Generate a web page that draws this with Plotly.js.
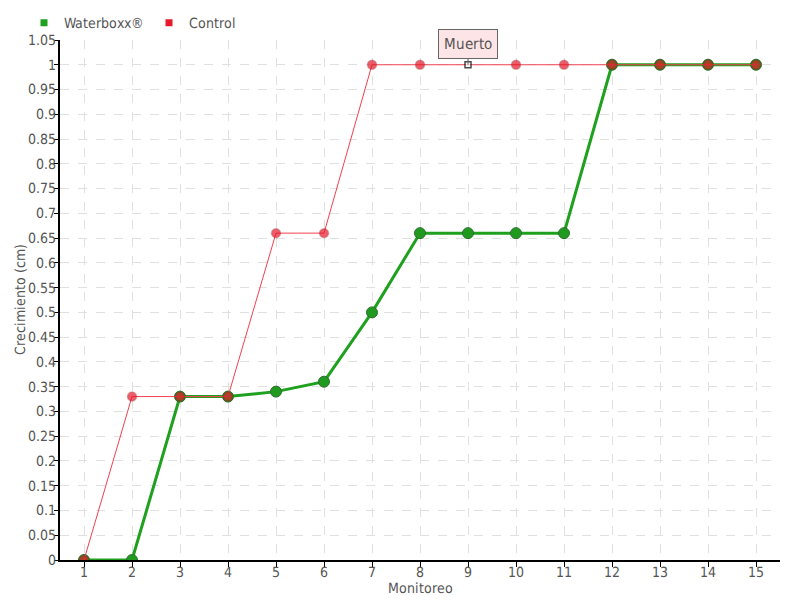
<!DOCTYPE html>
<html><head><meta charset="utf-8">
<script src="https://cdn.plot.ly/plotly-3.0.1.min.js"></script>
<style>
@font-face{font-family:'NarrowX';src:local('Liberation Sans Narrow'),local('LiberationSansNarrow-Regular'),local('DejaVu Sans Condensed'),local('DejaVuSansCondensed');}
body{margin:0;background:#fff}#c{width:800px;height:600px}
</style>
</head><body><div id="c"></div>
<script>
const monitoreo = [1,2,3,4,5,6,7,8,9,10,11,12,13,14,15];
const waterboxx = [0,0,0.33,0.33,0.34,0.36,0.5,0.66,0.66,0.66,0.66,1,1,1,1];
const control = [0,0.33,0.33,0.33,0.66,0.66,1,1,1,1,1,1,1,1,1];
const yTicks = [0,0.05,0.1,0.15,0.2,0.25,0.3,0.35,0.4,0.45,0.5,0.55,0.6,0.65,0.7,0.75,0.8,0.85,0.9,0.95,1,1.05];
const deadIndex = 8;
const deadLabel = "Muerto";

const fontFam = 'NarrowX, "Liberation Sans Narrow", "DejaVu Sans Condensed", sans-serif';
const ctrlSymbols = control.map((v,i)=> i===deadIndex ? 'square' : 'circle');
const ctrlColors = control.map((v,i)=> i===deadIndex ? '#ffffff' : '#e8192c');
const ctrlLineColors = control.map((v,i)=> i===deadIndex ? '#000000' : 'rgba(150,20,20,0.45)');
const ctrlSizes = control.map((v,i)=> i===deadIndex ? 6 : 9);

function draw(){
const traces = [
  {x: monitoreo, y: waterboxx, mode:'lines+markers', showlegend:false,
   line:{color:'#1fa01f', width:3},
   marker:{color:'#1f9a1f', size:11, line:{color:'#2f6f2f', width:1}}},
  {x: monitoreo, y: control, mode:'lines+markers', showlegend:false,
   line:{color:'#f0404f', width:1},
   marker:{color:ctrlColors, symbol:ctrlSymbols, size:ctrlSizes, line:{color:ctrlLineColors, width:1.5}}},
  {x:[null], y:[null], mode:'markers', name:'Waterboxx®', marker:{symbol:'square', color:'#1fa01f', size:7}},
  {x:[null], y:[null], mode:'markers', name:'Control', marker:{symbol:'square', color:'#e8192c', size:7}}
];

const layout = {
  width:800, height:600,
  margin:{l:60, r:20, t:40, b:40, autoexpand:false},
  paper_bgcolor:'#fff', plot_bgcolor:'#fff',
  font:{family:fontFam, color:'#555', size:14},
  showlegend:true,
  legend:{orientation:'h', xref:'container', x:0.03, xanchor:'left', yref:'container', y:0.988, yanchor:'top',
          font:{size:14, color:'#555'}, itemwidth:30, tracegroupgap:0, bgcolor:'rgba(0,0,0,0)'},
  xaxis:{range:[0.5,15.5], tickvals:monitoreo, ticktext:monitoreo.map(String),
         showgrid:true, gridcolor:'#e0e0e0', griddash:'dash', zeroline:false,
         showline:true, linecolor:'#000', linewidth:1.5, ticks:'outside', ticklen:5, tickcolor:'#000',
         ticklabelstandoff:-7,
         tickfont:{size:14, color:'#555'},
         title:{text:'Monitoreo', font:{size:14, color:'#555'}, standoff:0}},
  yaxis:{range:[0,1.05], tickvals:yTicks, ticktext:yTicks.map(v=>String(+v.toFixed(2))),
         showgrid:true, gridcolor:'#e0e0e0', griddash:'dash', zeroline:false,
         showline:true, linecolor:'#000', linewidth:1.5, ticks:'outside', ticklen:4, tickcolor:'#000',
         ticklabelstandoff:-5,
         tickfont:{size:14, color:'#555'},
         title:{text:'Crecimiento (cm)', font:{size:14, color:'#555'}, standoff:0}},
  annotations:[{x:monitoreo[deadIndex], y:control[deadIndex], text:deadLabel, showarrow:true,
    arrowhead:0, arrowwidth:1, arrowcolor:'#666', ax:0, ay:-21,
    bgcolor:'#fde4e6', bordercolor:'#666', borderwidth:1, borderpad:5,
    font:{size:15, color:'#555'}}]
};
Plotly.newPlot('c', traces, layout, {displayModeBar:false});
}
if (document.fonts && document.fonts.load) {
  document.fonts.load('14px NarrowX').then(draw, draw);
} else { draw(); }
</script></body></html>
